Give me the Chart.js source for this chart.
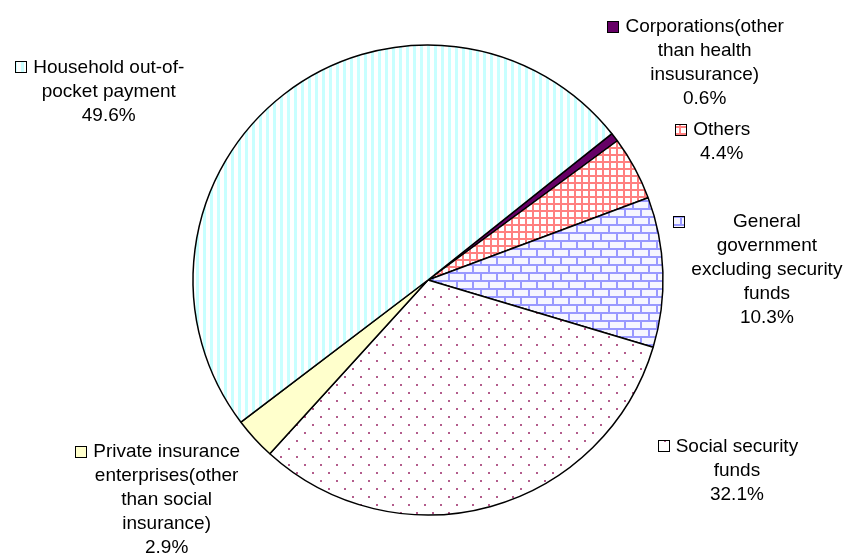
<!DOCTYPE html>
<html>
<head>
<meta charset="utf-8">
<script src="https://cdn.jsdelivr.net/npm/chart.js@4/dist/chart.umd.min.js"></script>
<style>
  body { margin: 0; background: #fff; }
  #wrap { width: 846px; height: 554px; }
</style>
</head>
<body>
<div id="wrap"><canvas id="pie" width="846" height="554"></canvas></div>
<script>
const categories = [
  'Corporations(other than health insusurance)',
  'Others',
  'General government excluding security funds',
  'Social security funds',
  'Private insurance enterprises(other than social insurance)',
  'Household out-of-pocket payment'
];
const shares = [0.6, 4.4, 10.3, 32.1, 2.9, 49.6];
const labelLines = [
  ['Corporations(other', 'than health', 'insusurance)'],
  ['Others'],
  ['General', 'government', 'excluding security', 'funds'],
  ['Social security', 'funds'],
  ['Private insurance', 'enterprises(other', 'than social', 'insurance)'],
  ['Household out-of-', 'pocket payment']
];
// label offsets from the outer middle point of each slice
const labelShift = [[90, -110], [87, -38], [104, -50], [246, -60], [-88, 13], [-175, -27]];

function tile(w, h, draw) {
  const c = document.createElement('canvas');
  c.width = w; c.height = h;
  const g = c.getContext('2d');
  g.fillStyle = '#fff';
  g.fillRect(0, 0, w, h);
  draw(g);
  return document.createElement('canvas').getContext('2d').createPattern(c, 'repeat');
}

const fills = [
  '#660066',
  tile(7, 7, g => {
    g.fillStyle = '#ff8080';
    g.fillRect(0, 0, 2, 7);
    g.fillRect(0, 0, 7, 2);
  }),
  tile(16, 16, g => {
    g.fillStyle = '#f6f6ff';
    g.fillRect(0, 0, 16, 16);
    g.fillStyle = '#9999ff';
    g.fillRect(0, 0, 16, 2);
    g.fillRect(0, 8, 16, 2);
    g.fillRect(0, 0, 2, 8);
    g.fillRect(8, 8, 2, 8);
  }),
  tile(16, 16, g => {
    g.fillStyle = '#b35c8c';
    g.fillRect(0, 0, 2, 2);
    g.fillRect(8, 8, 2, 2);
  }),
  '#ffffcc',
  tile(7, 8, g => {
    g.fillStyle = '#c8ffff';
    g.fillRect(0, 0, 3, 8);
  })
];

const outsideLabels = {
  id: 'outsideLabels',
  afterDraw(chart) {
    const ctx = chart.ctx;
    const arcs = chart.getDatasetMeta(0).data;
    ctx.save();
    ctx.font = '19px "Liberation Sans", Arial, sans-serif';
    ctx.fillStyle = '#000';
    ctx.textAlign = 'center';
    ctx.textBaseline = 'middle';
    const lh = 24;
    arcs.forEach((arc, i) => {
      const p = arc.getProps(['x', 'y', 'startAngle', 'endAngle', 'outerRadius'], true);
      const mid = (p.startAngle + p.endAngle) / 2;
      const ox = p.x + Math.cos(mid) * p.outerRadius;
      const oy = p.y + Math.sin(mid) * p.outerRadius;
      const cx = ox + labelShift[i][0];
      const y0 = oy + labelShift[i][1];
      const lines = labelLines[i].concat([shares[i].toFixed(1) + '%']);
      let widest = 0;
      lines.forEach((t, k) => {
        widest = Math.max(widest, ctx.measureText(t).width);
        ctx.fillText(t, cx, y0 + k * lh);
      });
      const kx = Math.round(cx - widest / 2 - 18);
      const ky = Math.round(y0 - 6);
      ctx.fillStyle = fills[i];
      ctx.fillRect(kx, ky, 12, 12);
      ctx.strokeStyle = '#000';
      ctx.lineWidth = 1;
      ctx.strokeRect(kx + 0.5, ky + 0.5, 11, 11);
      ctx.fillStyle = '#000';
    });
    ctx.restore();
  }
};

new Chart(document.getElementById('pie').getContext('2d'), {
  type: 'pie',
  data: {
    labels: categories,
    datasets: [{
      data: shares,
      backgroundColor: fills,
      borderColor: '#000',
      borderWidth: 1.5
    }]
  },
  options: {
    responsive: false,
    animation: false,
    rotation: 51.5,
    radius: 235,
    layout: { padding: { left: 193, right: 183, top: 45, bottom: 39 } },
    plugins: {
      legend: { display: false },
      tooltip: { enabled: false }
    }
  },
  plugins: [outsideLabels]
});
</script>
</body>
</html>
